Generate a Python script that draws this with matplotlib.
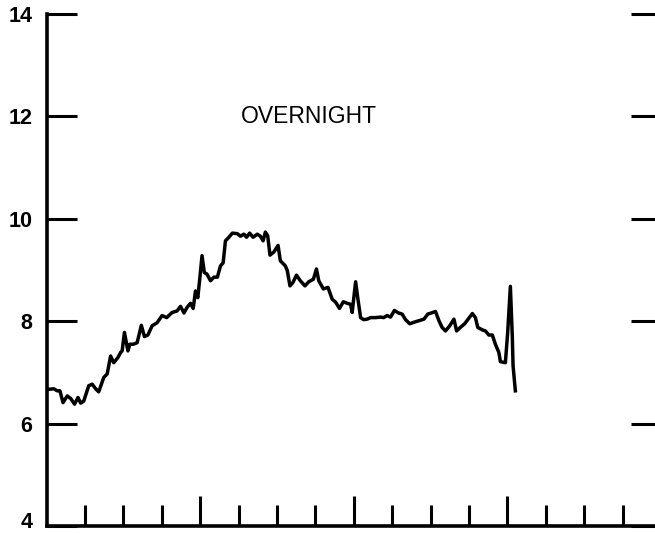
import matplotlib.pyplot as plt
import matplotlib.transforms as mtransforms

plt.rcParams['font.family'] = ['Liberation Sans', 'DejaVu Sans']

# 数据 (x: 刻度单位, y: 利率)
x_vals = [0.06, 0.19, 0.28, 0.35, 0.43, 0.54, 0.63, 0.73, 0.82, 0.89,
          0.97, 1.10, 1.19, 1.28, 1.36, 1.49, 1.58, 1.67, 1.75, 1.86,
          1.93, 1.97, 2.03, 2.12, 2.17, 2.26, 2.36, 2.47, 2.55, 2.64,
          2.75, 2.88, 3.01, 3.13, 3.27, 3.40, 3.49, 3.58, 3.66, 3.75,
          3.82, 3.88, 3.94, 3.99, 4.05, 4.11, 4.18, 4.27, 4.36, 4.45,
          4.53, 4.60, 4.66, 4.75, 4.84, 4.97, 5.05, 5.14, 5.21, 5.29,
          5.38, 5.49, 5.57, 5.64, 5.70, 5.76, 5.82, 5.92, 6.03, 6.09,
          6.22, 6.27, 6.34, 6.42, 6.51, 6.61, 6.73, 6.83, 6.95, 7.03,
          7.09, 7.21, 7.33, 7.44, 7.53, 7.63, 7.73, 7.83, 7.92, 7.96,
          8.05, 8.11, 8.18, 8.26, 8.35, 8.44, 8.57, 8.70, 8.78, 8.87,
          8.96, 9.06, 9.17, 9.26, 9.35, 9.46, 9.57, 9.70, 9.83, 9.93,
          10.02, 10.13, 10.22, 10.30, 10.39, 10.50, 10.61, 10.68, 10.78, 10.89,
          10.98, 11.09, 11.17, 11.23, 11.35, 11.43, 11.52, 11.61, 11.69, 11.78,
          11.82, 11.95, 12.01, 12.08, 12.13, 12.15, 12.21]
rate = [6.67, 6.68, 6.64, 6.64, 6.41, 6.54, 6.49, 6.38, 6.51, 6.40,
        6.44, 6.74, 6.77, 6.68, 6.62, 6.90, 6.97, 7.32, 7.19, 7.29,
        7.39, 7.42, 7.78, 7.42, 7.55, 7.55, 7.58, 7.92, 7.70, 7.73,
        7.91, 7.97, 8.11, 8.07, 8.17, 8.20, 8.29, 8.16, 8.27, 8.35,
        8.25, 8.59, 8.46, 8.82, 9.28, 8.95, 8.92, 8.79, 8.86, 8.86,
        9.08, 9.14, 9.57, 9.64, 9.72, 9.71, 9.66, 9.70, 9.64, 9.72,
        9.64, 9.70, 9.66, 9.57, 9.74, 9.67, 9.29, 9.35, 9.48, 9.18,
        9.08, 8.99, 8.69, 8.76, 8.90, 8.79, 8.69, 8.77, 8.82, 9.02,
        8.79, 8.63, 8.66, 8.43, 8.37, 8.25, 8.38, 8.35, 8.33, 8.17,
        8.77, 8.43, 8.07, 8.03, 8.04, 8.07, 8.07, 8.08, 8.07, 8.11,
        8.08, 8.21, 8.16, 8.14, 8.03, 7.95, 7.98, 8.01, 8.04, 8.14,
        8.16, 8.19, 8.01, 7.88, 7.81, 7.91, 8.04, 7.81, 7.88, 7.95,
        8.04, 8.15, 8.07, 7.88, 7.83, 7.81, 7.73, 7.73, 7.55, 7.39,
        7.21, 7.19, 7.78, 8.68, 7.71, 7.13, 6.64]

y_ticks = [4, 6, 8, 10, 12, 14]
y_labels = ['4', '6', '8', '10', '12', '14']
x_long = [4, 8, 12]
x_short = [1, 2, 3, 5, 6, 7, 9, 10, 11, 13, 14, 15]
title = 'OVERNIGHT'

fig = plt.figure(figsize=(6.55, 5.34), dpi=100)
# 右边框在图外 (被裁掉)
ax = fig.add_axes([46.5 / 655, 8 / 534, 614.4 / 655, 512 / 534])

ax.plot(x_vals, rate, color='black', lw=2.5, solid_joinstyle='round')

ax.set_xlim(0, 16)
ax.set_ylim(4, 14)

ax.spines['top'].set_visible(False)
ax.spines['right'].set_visible(False)
ax.spines['left'].set_linewidth(2.6)
ax.spines['bottom'].set_linewidth(2.6)

ax.set_yticks(y_ticks)
ax.set_yticklabels(y_labels, fontweight='bold')
ax.set_yticks([14], minor=True)
ax.set_xticks(x_long)
ax.set_xticklabels([])
ax.set_xticks(x_short, minor=True)

ax.tick_params(axis='y', which='major', direction='in', length=21.6, width=2.2,
               left=True, right=True, labelsize=15.5, pad=10)
ax.tick_params(axis='y', which='minor', direction='in', length=28.5, width=2.2,
               left=True, right=True)
ax.tick_params(axis='x', which='major', direction='in', length=21.6, width=2.2)
ax.tick_params(axis='x', which='minor', direction='in', length=15, width=2.2)

# "4" 上移, 避免被下边缘裁掉
lbl = ax.get_yticklabels()[0]
lbl.set_transform(lbl.get_transform() +
                  mtransforms.ScaledTranslation(0, 4.5 / 72, fig.dpi_scale_trans))

ax.text(0.427, 0.80, title, transform=ax.transAxes, fontsize=16.5,
        ha='center', va='center')

fig.savefig('out.png', dpi=100)
